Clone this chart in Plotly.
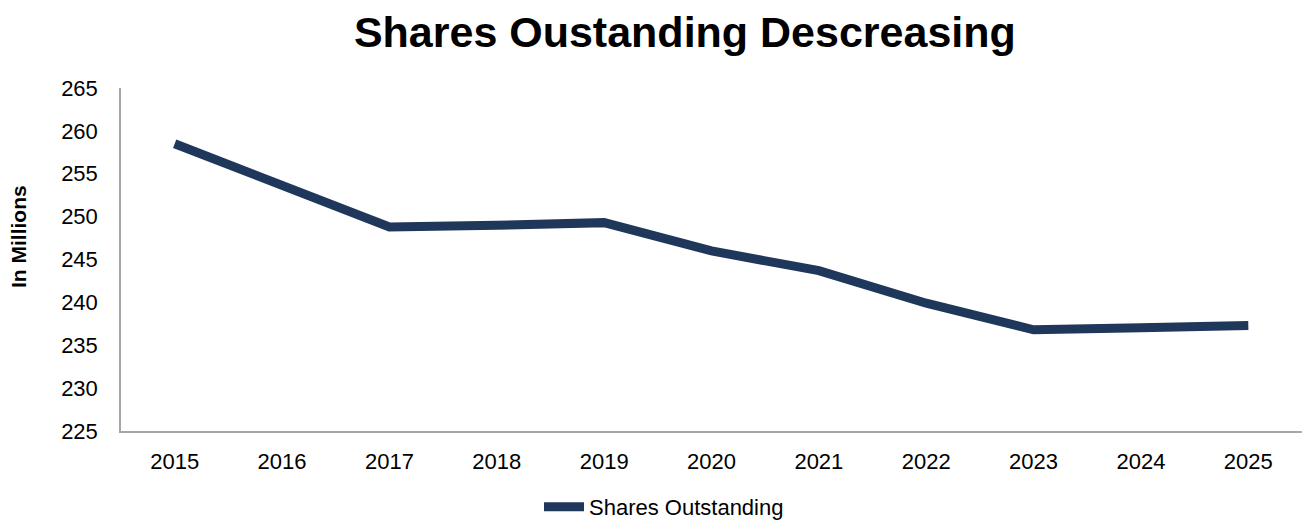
import plotly.graph_objects as go

years = ["2015", "2016", "2017", "2018", "2019", "2020", "2021", "2022", "2023", "2024", "2025"]
shares = [258.5, 253.6, 248.8, 249.0, 249.3, 246.0, 243.7, 239.9, 236.8, 237.05, 237.3]
y_ticks = [225, 230, 235, 240, 245, 250, 255, 260, 265]

LINE_COLOR = "#1E375A"
FONT = "Liberation Sans, Arial, sans-serif"

W, H = 1302, 520
ML, MR, MT, MB = 121, 0, 88, 89

fig = go.Figure()
fig.add_trace(go.Scatter(
    x=years, y=shares, mode="lines", name="Shares Outstanding",
    line=dict(color=LINE_COLOR, width=9, shape="linear"),
))

fig.add_annotation(
    text="<b>In Millions</b>", textangle=-90, showarrow=False,
    xref="paper", yref="paper",
    x=(18 - ML) / (W - ML - MR), y=(H - MB - 236) / (H - MT - MB),
    xanchor="center", yanchor="middle",
    font=dict(size=21, family=FONT, color="black"),
)

fig.update_layout(
    width=W, height=H,
    margin=dict(l=ML, r=MR, t=MT, b=MB, autoexpand=False),
    paper_bgcolor="white", plot_bgcolor="white",
    font=dict(family=FONT, color="black", size=22),
    title=dict(text="<b>Shares Oustanding Descreasing</b>", x=0.526, xanchor="center",
               y=1 - 32 / H, yanchor="middle", font=dict(size=43, family=FONT, color="black")),
    showlegend=True,
    legend=dict(orientation="h", xref="container", yref="container",
                x=664 / W, xanchor="center", y=1 - 507 / H, yanchor="middle",
                font=dict(size=22, family=FONT), itemwidth=40),
    xaxis=dict(type="category", range=[-0.5, 10.5], showgrid=False, zeroline=False,
               showline=True, linecolor="#A6A6A6", linewidth=1.5, ticks="",
               ticklabelstandoff=10, tickfont=dict(size=22, family=FONT)),
    yaxis=dict(range=[225, 265], tickvals=y_ticks, showgrid=False, zeroline=False,
               showline=True, linecolor="#A6A6A6", linewidth=1.5, ticks="",
               ticklabelstandoff=17, tickfont=dict(size=22, family=FONT)),
)

fig.write_html("out.html")
